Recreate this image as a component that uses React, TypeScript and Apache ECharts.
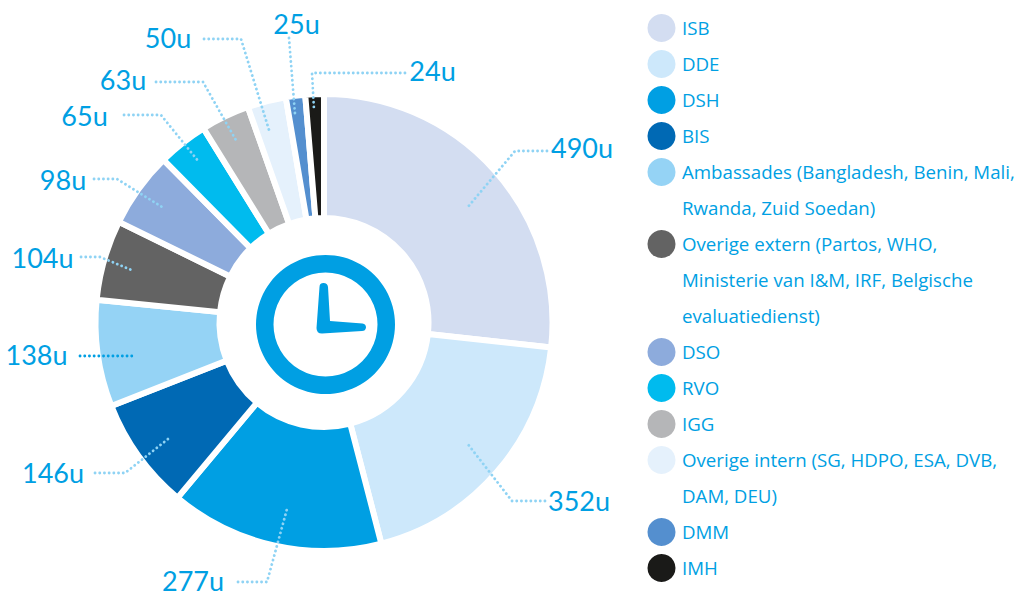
import React, { useEffect, useRef } from "react";
import * as echarts from "echarts";

const categories = ["ISB", "DDE", "DSH", "BIS", "Ambassades", "Overige extern", "DSO", "RVO", "IGG", "Overige intern", "DMM", "IMH"];
const hours = [490, 352, 277, 146, 138, 104, 98, 65, 63, 50, 25, 24];
const colors = ["#d3ddf1", "#cde8fb", "#009fe3", "#0069b4", "#95d3f5", "#636363", "#8dabdc", "#00bbee", "#b5b6b8", "#e5f1fc", "#548fcf", "#1a1a18"];
const legendLines = [
  ["ISB"],
  ["DDE"],
  ["DSH"],
  ["BIS"],
  ["Ambassades (Bangladesh, Benin, Mali,", "Rwanda, Zuid Soedan)"],
  ["Overige extern (Partos, WHO,", "Ministerie van I&M, IRF, Belgische", "evaluatiedienst)"],
  ["DSO"],
  ["RVO"],
  ["IGG"],
  ["Overige intern (SG, HDPO, ESA, DVB,", "DAM, DEU)"],
  ["DMM"],
  ["IMH"],
];

// Annotation layout: label centre and leader line, per slice.
const labelAnchors = [
  [582, 147], [579, 500], [193, 580], [53, 472],
  [36.5, 354], [42.5, 257], [63, 179], [84.5, 115],
  [123, 79], [168, 37], [296.5, 23], [432.5, 70],
];
const leaderPoints = [
  [[547, 151], [515, 151], [467, 208]],
  [[545, 501], [512, 501], [467, 443]],
  [[238, 582], [267, 582], [287, 509]],
  [[95, 473], [125, 473], [168, 439]],
  [[80, 356], [106, 356], [132, 356]],
  [[81, 257], [100, 257], [134, 271]],
  [[94, 179], [117, 179], [162, 207]],
  [[124, 115], [161, 115], [199, 162]],
  [[156, 82], [203, 82], [237, 142]],
  [[204, 39], [241, 39], [269, 130]],
  [[289, 38], [292, 76], [295, 114]],
  [[405, 73], [312, 73], [314, 110]],
];

const BLUE = "#009fe3";
const LABEL_FONT = "Lato";
const LEGEND_FONT = "'Open Sans'";
const LEGEND_X = 661.5;
const LEGEND_TEXT_X = 682;
const LEGEND_TOP = 28;
const ROW = 36;

const HANDS =
  "M319.5 287 Q319.5 283 323.5 283 Q327.5 283 328 287 L330 321 L362.5 323.5 Q366 324 366 327.5 Q365.5 331 362 331 L322 333.5 Q316.5 333.5 316.5 328 Z";
echarts.graphic.registerShape("clockHands", echarts.graphic.extendPath(HANDS, {}));

function legendGraphics() {
  const out: any[] = [];
  let row = 0;
  legendLines.forEach((lines, i) => {
    out.push({
      type: "circle",
      shape: { cx: LEGEND_X, cy: LEGEND_TOP + row * ROW, r: 14 },
      style: { fill: colors[i] },
    });
    lines.forEach((line) => {
      out.push({
        type: "text",
        x: LEGEND_TEXT_X,
        y: LEGEND_TOP + row * ROW - 1,
        style: { text: line, fill: BLUE, font: `18.7px ${LEGEND_FONT}`, textAlign: "left", textVerticalAlign: "middle" },
      });
      row += 1;
    });
  });
  return out;
}

export default function App() {
  const ref = useRef<HTMLDivElement>(null);
  useEffect(() => {
    document.body.style.margin = "0";
    const chart = echarts.init(ref.current!, undefined, { renderer: "svg" });
    const pieGeometry = { type: "pie", center: [324, 322.5], radius: [104.5, 228.5], startAngle: 90, clockwise: true };
    chart.setOption({
      animation: false,
      backgroundColor: "#ffffff",
      series: [
        {
          ...pieGeometry,
          z: 2,
          silent: true,
          itemStyle: { borderColor: "#ffffff", borderWidth: 6 },
          label: { show: false },
          labelLine: { show: false },
          data: categories.map((name, i) => ({ name, value: hours[i], itemStyle: { color: colors[i] } })),
        },
        {
          // Same slices, unpainted: carries the labels so that their leader lines lie over the slices.
          ...pieGeometry,
          z: 3,
          silent: true,
          avoidLabelOverlap: false,
          itemStyle: { color: "rgba(0,0,0,0)", borderWidth: 0 },
          label: {
            show: true,
            position: "outside",
            formatter: "{c}u",
            color: BLUE,
            fontFamily: LABEL_FONT,
            fontSize: 27,
          },
          labelLine: {
            show: true,
            lineStyle: { color: "#8fd3f4", width: 2.8, type: [0.1, 4.6], cap: "round" },
          },
          labelLayout: (p: any) => {
            const [x, y] = labelAnchors[p.dataIndex];
            return { x, y, align: "center", verticalAlign: "middle", labelLinePoints: leaderPoints[p.dataIndex] };
          },
          data: categories.map((name, i) => ({
            name,
            value: hours[i],
            ...(name === "Ambassades" ? { labelLine: { lineStyle: { color: BLUE } } } : {}),
          })),
        },
      ],
      graphic: [
        {
          type: "ring",
          shape: { cx: 325.5, cy: 324.5, r: 69.5, r0: 52 },
          style: { fill: BLUE },
        },
        { type: "clockHands", style: { fill: BLUE } },
        ...legendGraphics(),
      ],
    });
    return () => chart.dispose();
  }, []);
  return <div ref={ref} style={{ width: 1019, height: 598 }} />;
}
